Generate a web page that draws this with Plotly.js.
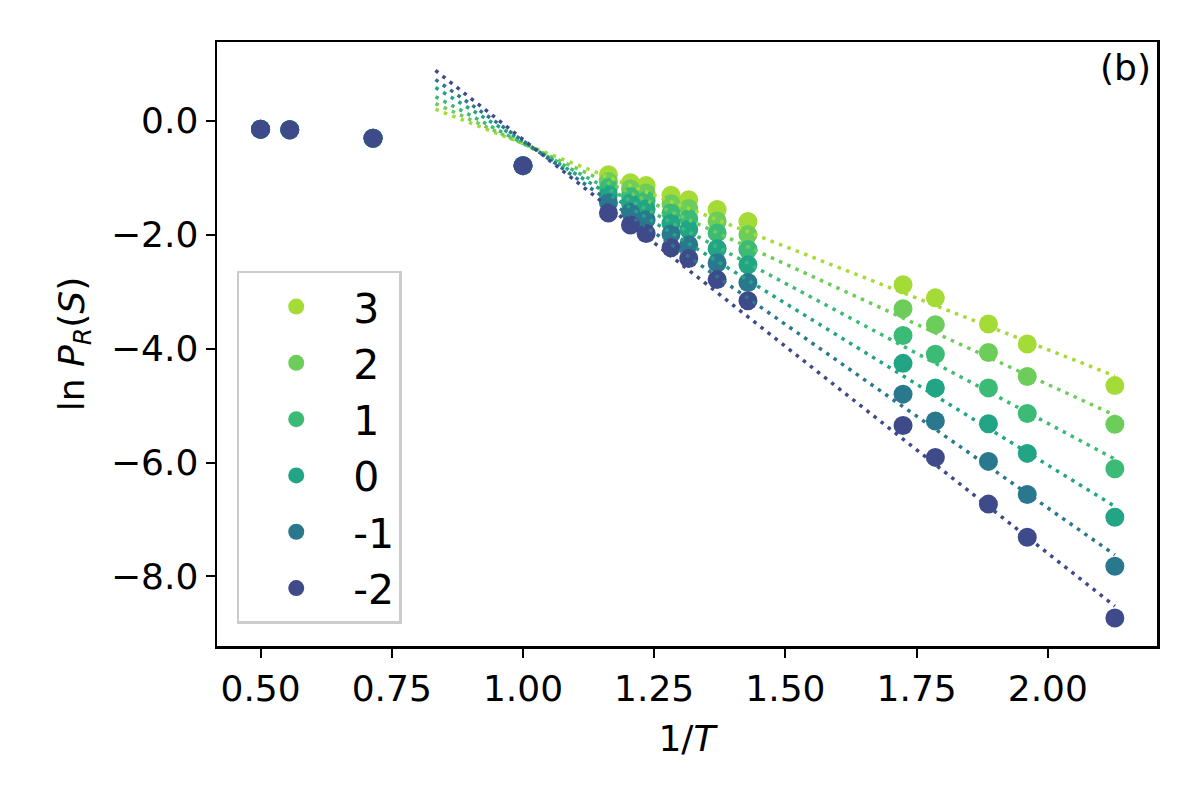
<!DOCTYPE html>
<html>
<head>
<meta charset="utf-8">
<script src="https://cdn.plot.ly/plotly-3.0.1.min.js"></script>
<style>html,body{margin:0;padding:0;background:#fff;}#chart{width:1200px;height:800px;}</style>
</head>
<body>
<div id="chart"></div>
<script>
// 1/T values (x)
const invT = [0.5, 0.5556, 0.7143, 1.0, 1.1628, 1.2048, 1.2346, 1.2821, 1.3158, 1.3699, 1.4286, 1.7241, 1.7857, 1.8868, 1.9608, 2.1277];

// series labels (legend order) and colours
const seriesLabels = ['3', '2', '1', '0', '-1', '-2'];
const seriesColors = ['#a5db36', '#6ccd5a', '#3bbb75', '#21a585', '#2a788e', '#3e4a89'];

// ln P_R(S) values per series
const lnP_3  = [-0.15, -0.16, -0.31, -0.79, -0.95, -1.09, -1.14, -1.31, -1.39, -1.56, -1.77, -2.88, -3.11, -3.57, -3.92, -4.65];
const lnP_2  = [-0.15, -0.16, -0.31, -0.79, -1.07, -1.20, -1.27, -1.46, -1.54, -1.76, -2.00, -3.30, -3.58, -4.07, -4.49, -5.33];
const lnP_1  = [-0.15, -0.16, -0.31, -0.79, -1.18, -1.33, -1.40, -1.62, -1.72, -1.97, -2.26, -3.77, -4.10, -4.69, -5.14, -6.11];
const lnP_0  = [-0.15, -0.16, -0.31, -0.79, -1.30, -1.45, -1.55, -1.80, -1.91, -2.25, -2.53, -4.26, -4.69, -5.32, -5.84, -6.96];
const lnP_m1 = [-0.15, -0.16, -0.31, -0.79, -1.44, -1.61, -1.74, -1.99, -2.18, -2.50, -2.84, -4.80, -5.27, -5.98, -6.56, -7.82];
const lnP_m2 = [-0.15, -0.16, -0.31, -0.79, -1.62, -1.83, -1.98, -2.23, -2.42, -2.79, -3.16, -5.35, -5.91, -6.73, -7.31, -8.73];
const seriesValues = [lnP_3, lnP_2, lnP_1, lnP_0, lnP_m1, lnP_m2];

// fitted dotted lines: x endpoints and y at those endpoints
const fitX = [0.8333, 2.1277];
const fitStart = [0.20, 0.30, 0.42, 0.58, 0.72, 0.88];
const fitEnd = [-4.48, -5.17, -5.94, -6.77, -7.62, -8.52];

// tick settings
const xTickVals = [0.50, 0.75, 1.00, 1.25, 1.50, 1.75, 2.00];
const yTickVals = [0, -2, -4, -6, -8];

const FONT = 'DejaVu Sans, sans-serif';
const traces = [];
seriesLabels.forEach((lab, i) => {
  traces.push({
    type: 'scatter', mode: 'markers', name: lab,
    x: invT, y: seriesValues[i],
    marker: {color: seriesColors[i], size: 19, line: {width: 0}},
    showlegend: true
  });
});
seriesLabels.forEach((lab, i) => {
  traces.push({
    type: 'scatter', mode: 'lines', name: lab + ' fit',
    x: fitX, y: [fitStart[i], fitEnd[i]],
    line: {color: seriesColors[i], width: 3.5, dash: '3.5px,5.5px'},
    showlegend: false
  });
});

const axisCommon = {
  showgrid: false, zeroline: false,
  showline: true, mirror: true, linecolor: '#000', linewidth: 2.5,
  ticks: 'outside', ticklen: 9, tickwidth: 2, tickcolor: '#000',
  tickfont: {family: FONT, size: 36, color: '#000'}
};

const layout = {
  width: 1200, height: 800,
  margin: {l: 217, r: 43, t: 42, b: 154},
  paper_bgcolor: '#fff', plot_bgcolor: '#fff',
  font: {family: FONT, size: 36, color: '#000'},
  xaxis: Object.assign({}, axisCommon, {
    range: [0.417, 2.208],
    tickmode: 'array', tickvals: xTickVals, ticktext: xTickVals.map(v => v.toFixed(2)),
    title: {text: '1/<i>T</i>', font: {family: FONT, size: 36, color: '#000'}, standoff: 18}
  }),
  yaxis: Object.assign({}, axisCommon, {
    range: [-9.22, 1.38],
    tickmode: 'array', tickvals: yTickVals, ticktext: yTickVals.map(v => (v < 0 ? '\u2212' : '') + Math.abs(v).toFixed(1)),
    title: {text: 'ln <i>P</i><sub><i>R</i></sub>(<i>S</i>)', font: {family: FONT, size: 36, color: '#000'}, standoff: 16}
  }),
  legend: {
    x: 0.021, y: 0.621, xanchor: 'left', yanchor: 'top',
    bgcolor: '#fff', bordercolor: '#cccccc', borderwidth: 2.5,
    font: {family: FONT, size: 41, color: '#000'},
    itemwidth: 104
  },
  annotations: [{
    text: '(b)', xref: 'paper', yref: 'paper', x: 1, y: 1,
    xanchor: 'right', yanchor: 'top', xshift: -4, yshift: -3, showarrow: false,
    font: {family: FONT, size: 36, color: '#000'}
  }],
  showlegend: true
};

Plotly.newPlot('chart', traces, layout, {staticPlot: true, displayModeBar: false});
</script>
</body>
</html>
